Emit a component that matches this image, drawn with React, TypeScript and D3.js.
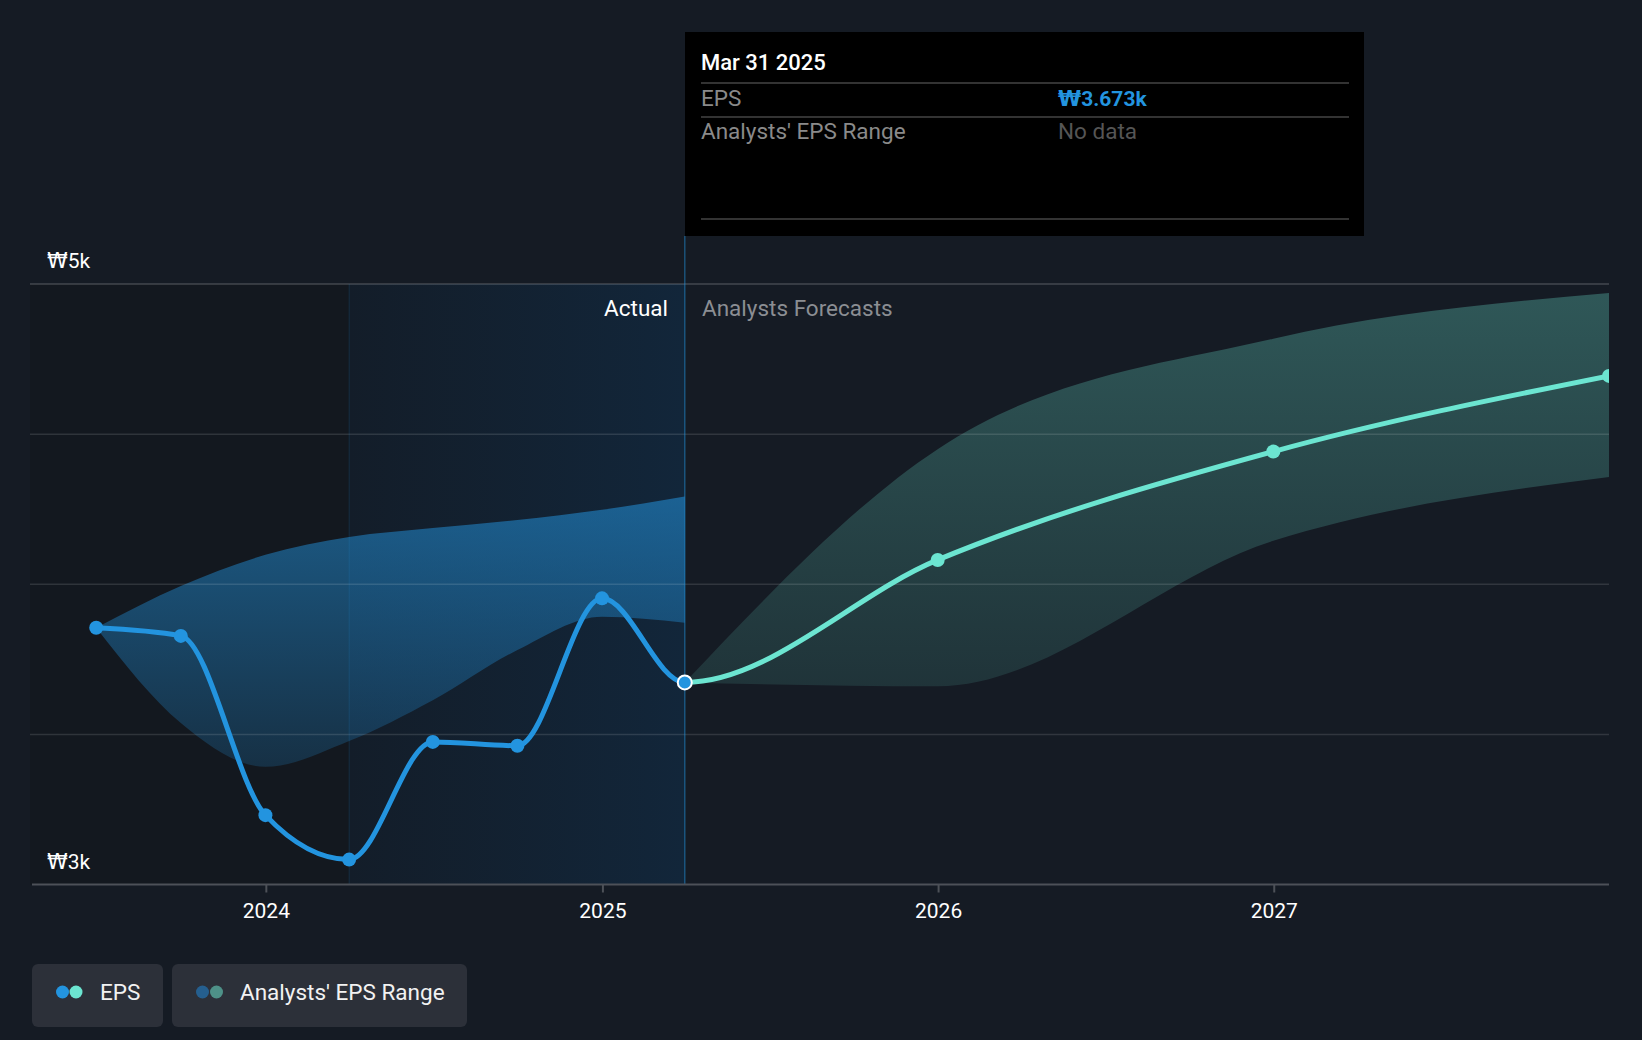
import React from "react";
import * as d3 from "d3";

const actualDates = ["2023-06-30", "2023-09-30", "2023-12-31", "2024-03-31", "2024-06-30", "2024-09-30", "2024-12-31", "2025-03-31"];
const actualEps = [3855, 3828, 3231, 3083, 3475, 3462, 3953, 3673];
const pastRangeLow = [3855, 3538, 3392, 3478, 3614, 3781, 3892, 3872];
const pastRangeHigh = [3855, 3994, 4098, 4157, 4187, 4214, 4248, 4292];

const forecastDates = ["2025-03-31", "2025-12-31", "2026-12-31", "2027-12-31"];
const forecastEps = [3673, 4081, 4442, 4694];
const forecastLow = [3673, 3660, 4145, 4357];
const forecastHigh = [3673, 4450, 4818, 4970];

const yGridValues = [3500, 4000, 4500, 5000];
const yLabelValues = [3000, 5000];

const tooltipDate = "Mar 31 2025";
const tooltipEps = "3.673k";

const BLUE = "#2394df";
const TEAL = "#6ce5d1";
const BG = "#151b24";
const FONT = "Roboto, 'Noto Sans', sans-serif";
const WON_FONT = "'DejaVu Sans', sans-serif";
const WORD = 22.5;
const NUM = 21;

export default function App() {
  const parse = d3.timeParse("%Y-%m-%d");
  const x = d3.scaleTime().domain([parse("2023-04-19")!, parse("2027-12-31")!]).range([30, 1609]);
  const y = d3.scaleLinear().domain([3000, 5000]).range([884.5, 284]);
  const left = 30, right = 1609, top = y(5000), bottom = y(3000);

  const actual = actualDates.map((d, i) => ({ d: parse(d)!, v: actualEps[i], lo: pastRangeLow[i], hi: pastRangeHigh[i] }));
  const fc = forecastDates.map((d, i) => ({ d: parse(d)!, v: forecastEps[i], lo: forecastLow[i], hi: forecastHigh[i] }));
  const all = actual.concat(fc.slice(1));

  const line = d3.line<any>().x((p) => x(p.d)).y((p) => y(p.v)).curve(d3.curveMonotoneX);
  const area = d3.area<any>().x((p) => x(p.d)).y0((p) => y(p.lo)).y1((p) => y(p.hi)).curve(d3.curveMonotoneX);

  const xNow = x(parse("2025-03-31")!);
  const xStart = x(parse("2024-03-31")!);
  const years = x.ticks(d3.timeYear.every(1)!);
  const fullPath = line(all) || "";

  return (
    <svg width={1642} height={1040} style={{ position: "absolute", left: 0, top: 0 }} fontFamily={FONT}>
      <defs>
        <clipPath id="plot">
          <rect x={left} y={0} width={right - left} height={bottom} />
        </clipPath>
        <clipPath id="past">
          <rect x={0} y={0} width={xNow} height={bottom + 20} />
        </clipPath>
        <clipPath id="future">
          <rect x={xNow} y={0} width={right - xNow} height={bottom + 20} />
        </clipPath>
        <linearGradient id="hl" x1="0" x2="1" y1="0" y2="0">
          <stop offset="0" stopColor="#131d29" />
          <stop offset="1" stopColor="#12263a" />
        </linearGradient>
        <linearGradient id="blueBand" gradientUnits="userSpaceOnUse" x1="0" x2="0" y1={490} y2={780}>
          <stop offset="0" stopColor={BLUE} stopOpacity={0.55} />
          <stop offset="1" stopColor={BLUE} stopOpacity={0.18} />
        </linearGradient>
        <linearGradient id="tealBand" gradientUnits="userSpaceOnUse" x1="0" x2="0" y1={290} y2={690}>
          <stop offset="0" stopColor={TEAL} stopOpacity={0.3} />
          <stop offset="1" stopColor={TEAL} stopOpacity={0.12} />
        </linearGradient>
      </defs>
      <rect x={0} y={0} width={1642} height={1040} fill={BG} />
      <rect x={left} y={top} width={xStart - left} height={bottom - top} fill="#13181f" />
      <rect x={xStart} y={top} width={xNow - xStart} height={bottom - top} fill="url(#hl)" />

      <g clipPath="url(#plot)">
        <path d={area(actual) || ""} fill="url(#blueBand)" />
        <path d={area(fc) || ""} fill="url(#tealBand)" />
      </g>

      {yGridValues.map((v) => (
        <line key={v} x1={left} x2={right} y1={y(v)} y2={y(v)} stroke="#ffffff" strokeOpacity={v === 5000 ? 0.2 : 0.12} strokeWidth={1.5} />
      ))}
      <line x1={xStart} x2={xStart} y1={top} y2={bottom} stroke={BLUE} strokeOpacity={0.15} strokeWidth={1} />
      <line x1={xNow} x2={xNow} y1={236} y2={bottom} stroke={BLUE} strokeOpacity={0.45} strokeWidth={1.5} />

      <line x1={left + 2} x2={right} y1={bottom} y2={bottom} stroke="#4d5158" strokeWidth={2} />
      {years.map((t) => (
        <g key={t.getFullYear()}>
          <line x1={x(t)} x2={x(t)} y1={bottom} y2={bottom + 8} stroke="#4d5158" strokeWidth={2} />
          <text x={x(t)} y={918} textAnchor="middle" fill="#ffffff" fontSize={NUM}>
            {d3.timeFormat("%Y")(t)}
          </text>
        </g>
      ))}

      {yLabelValues.map((v) => (
        <text key={v} x={47} y={y(v) - 16} fill="#ffffff" fontSize={NUM}>
          <tspan fontFamily={WON_FONT}>₩</tspan>
          {`${v / 1000}k`}
        </text>
      ))}

      <g clipPath="url(#plot)">
        <g clipPath="url(#past)">
          <path d={fullPath} fill="none" stroke={BLUE} strokeWidth={5} />
        </g>
        <g clipPath="url(#future)">
          <path d={fullPath} fill="none" stroke={TEAL} strokeWidth={5} />
        </g>
        {actual.slice(0, -1).map((p, i) => (
          <circle key={i} cx={x(p.d)} cy={y(p.v)} r={7} fill={BLUE} />
        ))}
        {fc.slice(1).map((p, i) => (
          <circle key={i} cx={x(p.d)} cy={y(p.v)} r={7} fill={TEAL} />
        ))}
        <circle cx={x(actual[actual.length - 1].d)} cy={y(actual[actual.length - 1].v)} r={7} fill={BLUE} stroke="#ffffff" strokeWidth={2} />
      </g>

      <text x={668} y={316} textAnchor="end" fill="#ffffff" fontSize={WORD}>Actual</text>
      <text x={702} y={316} fill="#8b8e93" fontSize={WORD}>Analysts Forecasts</text>

      <g>
        <rect x={685} y={32} width={679} height={204} fill="#000000" />
        <text x={701} y={70} fill="#ffffff" fontSize={22} fontWeight={500}>{tooltipDate}</text>
        <line x1={701} x2={1349} y1={83} y2={83} stroke="#444444" strokeWidth={1.5} />
        <text x={701} y={106} fill="#8a8a8a" fontSize={WORD}>EPS</text>
        <text x={1058} y={106} fill={BLUE} fontSize={NUM} fontWeight={700}>
          <tspan fontFamily={WON_FONT}>₩</tspan>
          {tooltipEps}
        </text>
        <line x1={701} x2={1349} y1={117} y2={117} stroke="#444444" strokeWidth={1.5} />
        <text x={701} y={139} fill="#8a8a8a" fontSize={WORD}>Analysts' EPS Range</text>
        <text x={1058} y={139} fill="#555555" fontSize={WORD}>No data</text>
        <line x1={701} x2={1349} y1={219} y2={219} stroke="#444444" strokeWidth={1.5} />
      </g>

      <g>
        <rect x={32} y={964} width={131} height={63} rx={6} fill="#2c3039" />
        <circle cx={62.5} cy={992} r={6.5} fill={BLUE} />
        <circle cx={76} cy={992} r={6.5} fill={TEAL} />
        <text x={100} y={1000} fill="#f2f2f2" fontSize={WORD}>EPS</text>
        <rect x={172} y={964} width={295} height={63} rx={6} fill="#2c3039" />
        <circle cx={202.5} cy={992} r={6.5} fill="#255f8f" />
        <circle cx={216.5} cy={992} r={6.5} fill="#4e9188" />
        <text x={240} y={1000} fill="#f2f2f2" fontSize={WORD}>Analysts' EPS Range</text>
      </g>
    </svg>
  );
}
